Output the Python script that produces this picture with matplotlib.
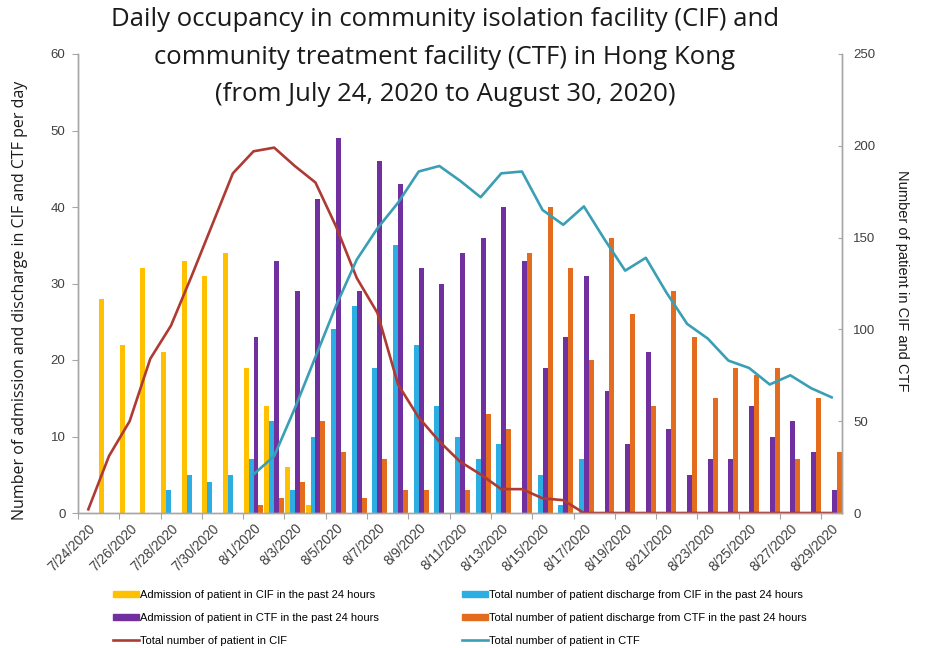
import matplotlib
matplotlib.use("Agg")
import matplotlib.pyplot as plt
import numpy as np
from matplotlib.patches import Patch
from matplotlib.lines import Line2D

dates = ["7/24/2020", "7/25/2020", "7/26/2020", "7/27/2020", "7/28/2020", "7/29/2020",
         "7/30/2020", "7/31/2020", "8/1/2020", "8/2/2020", "8/3/2020", "8/4/2020",
         "8/5/2020", "8/6/2020", "8/7/2020", "8/8/2020", "8/9/2020", "8/10/2020",
         "8/11/2020", "8/12/2020", "8/13/2020", "8/14/2020", "8/15/2020", "8/16/2020",
         "8/17/2020", "8/18/2020", "8/19/2020", "8/20/2020", "8/21/2020", "8/22/2020",
         "8/23/2020", "8/24/2020", "8/25/2020", "8/26/2020", "8/27/2020", "8/28/2020",
         "8/29/2020"]

cif_admission = [0, 28, 22, 32, 21, 33, 31, 34, 19, 14, 6, 1, 0, 0, 0, 0, 0, 0, 0,
                 0, 0, 0, 0, 0, 0, 0, 0, 0, 0, 0, 0, 0, 0, 0, 0, 0, 0]
cif_discharge = [0, 0, 0, 0, 3, 5, 4, 5, 7, 12, 3, 10, 24, 27, 19, 35, 22, 14, 10,
                 7, 9, 0, 5, 1, 7, 0, 0, 0, 0, 0, 0, 0, 0, 0, 0, 0, 0]
ctf_admission = [0, 0, 0, 0, 0, 0, 0, 0, 23, 33, 29, 41, 49, 29, 46, 43, 32, 30, 34,
                 36, 40, 33, 19, 23, 31, 16, 9, 21, 11, 5, 7, 7, 14, 10, 12, 8, 3]
ctf_discharge = [0, 0, 0, 0, 0, 0, 0, 0, 1, 2, 4, 12, 8, 2, 7, 3, 3, 0, 3,
                 13, 11, 34, 40, 32, 20, 36, 26, 14, 29, 23, 15, 19, 18, 19, 7, 15, 8]
cif_total = [2, 31, 50, 84, 102, 129, 157, 185, 197, 199, 189, 180, 156, 128, 109, 70,
             52, 39, 28, 21, 13, 13, 8, 7, 0, 0, 0, 0, 0, 0, 0, 0, 0, 0, 0, 0, 0]
ctf_total = [None, None, None, None, None, None, None, None, 21, 31, 57, 85, 113, 138,
             155, 169, 186, 189, 181, 172, 185, 186, 165, 157, 167, 149, 132, 139,
             120, 103, 95, 83, 79, 70, 75, 68, 63]

labels = {
    "cif_adm": "Admission of patient in CIF in the past 24 hours",
    "cif_dis": "Total number of patient discharge from CIF in the past 24 hours",
    "ctf_adm": "Admission of patient in CTF in the past 24 hours",
    "ctf_dis": "Total number of patient discharge from CTF in the past 24 hours",
    "cif_tot": "Total number of patient in CIF",
    "ctf_tot": "Total number of patient in CTF",
}

c_yellow = "#FFC000"
c_blue = "#2DAEE2"
c_purple = "#7030A0"
c_orange = "#E46C1E"
c_red = "#AE3B33"
c_teal = "#3A9FB5"
axis_grey = "#A6A6A6"

fig = plt.figure(figsize=(9.25, 6.48), dpi=100)
ax = fig.add_axes([78/925, 1-513/648, (842-78)/925, (513-54)/648])
ax2 = ax.twinx()

x = np.arange(len(dates))
w = 0.24
ax.bar(x - 1.5*w, cif_admission, w, color=c_yellow, label=labels["cif_adm"])
ax.bar(x - 0.5*w, cif_discharge, w, color=c_blue, label=labels["cif_dis"])
ax.bar(x + 0.5*w, ctf_admission, w, color=c_purple, label=labels["ctf_adm"])
ax.bar(x + 1.5*w, ctf_discharge, w, color=c_orange, label=labels["ctf_dis"])

ctf_arr = np.array([np.nan if v is None else v for v in ctf_total], dtype=float)
ax2.plot(x, cif_total, color=c_red, lw=1.9, label=labels["cif_tot"])
ax2.plot(x, ctf_arr, color=c_teal, lw=1.9, label=labels["ctf_tot"])

ax.set_xlim(-0.5, len(dates) - 0.5)
ax.set_ylim(0, 60)
ax2.set_ylim(0, 250)
ax.set_yticks(np.arange(0, 61, 10))
ax2.set_yticks(np.arange(0, 251, 50))

# x ticks: marks at category boundaries every 2, labels at even category centers
ax.set_xticks(np.arange(-0.5, len(dates), 2))
ax.set_xticklabels([])
ax.set_xticks(np.arange(0, len(dates), 2), minor=True)
ax.set_xticklabels(dates[::2], minor=True, rotation=45, ha="right", va="top",
                   rotation_mode="anchor", fontsize=9.8, family="Liberation Sans",
                   color="#404040")
ax.tick_params(axis="x", which="minor", length=0, pad=6)
ax.tick_params(axis="x", which="major", length=4, color=axis_grey, direction="out")

for a in (ax, ax2):
    a.spines["top"].set_visible(False)
    for s in ("left", "right", "bottom"):
        a.spines[s].set_color(axis_grey)
        a.spines[s].set_linewidth(1.0)
ax.tick_params(axis="y", length=4, color=axis_grey, labelsize=9.5, labelcolor="#404040",
               pad=5)
ax2.tick_params(axis="y", length=3, color=axis_grey, labelsize=9.5, labelcolor="#404040",
                direction="in", pad=8)
for t in ax.get_yticklabels() + ax2.get_yticklabels():
    t.set_family("Liberation Sans")

fig.text(20/925, 1-300/648, "Number of admission and discharge in CIF and CTF per day",
         rotation=90, ha="center", va="center", fontsize=11.5, family="Open Sans",
         color="#1a1a1a")
fig.text(902/925, 1-281/648, "Number of patient in CIF and CTF", rotation=-90,
         ha="center", va="center", fontsize=10.5, family="Liberation Sans",
         color="#1a1a1a")

fig.text(445/925, 1-57/648,
         "Daily occupancy in community isolation facility (CIF) and\n"
         "community treatment facility (CTF) in Hong Kong\n"
         "(from July 24, 2020 to August 30, 2020)",
         ha="center", va="center", fontsize=18.5, family="Open Sans",
         color="#1a1a1a", linespacing=1.68)

h1 = [Patch(color=c_yellow), Patch(color=c_purple), Line2D([], [], color=c_red, lw=1.9)]
l1 = [labels["cif_adm"], labels["ctf_adm"], labels["cif_tot"]]
h2 = [Patch(color=c_blue), Patch(color=c_orange), Line2D([], [], color=c_teal, lw=1.9)]
l2 = [labels["cif_dis"], labels["ctf_dis"], labels["ctf_tot"]]
common = dict(frameon=False, prop={"family": "Liberation Sans", "size": 8},
              handlelength=2.3, handleheight=0.55, handletextpad=0.15,
              labelspacing=1.15, borderaxespad=0, borderpad=0)
leg1 = fig.legend(h1, l1, loc="upper left", bbox_to_anchor=(113/925, 1-590/648), **common)
leg2 = fig.legend(h2, l2, loc="upper left", bbox_to_anchor=(462/925, 1-590/648), **common)

fig.savefig("out.png", dpi=100)
